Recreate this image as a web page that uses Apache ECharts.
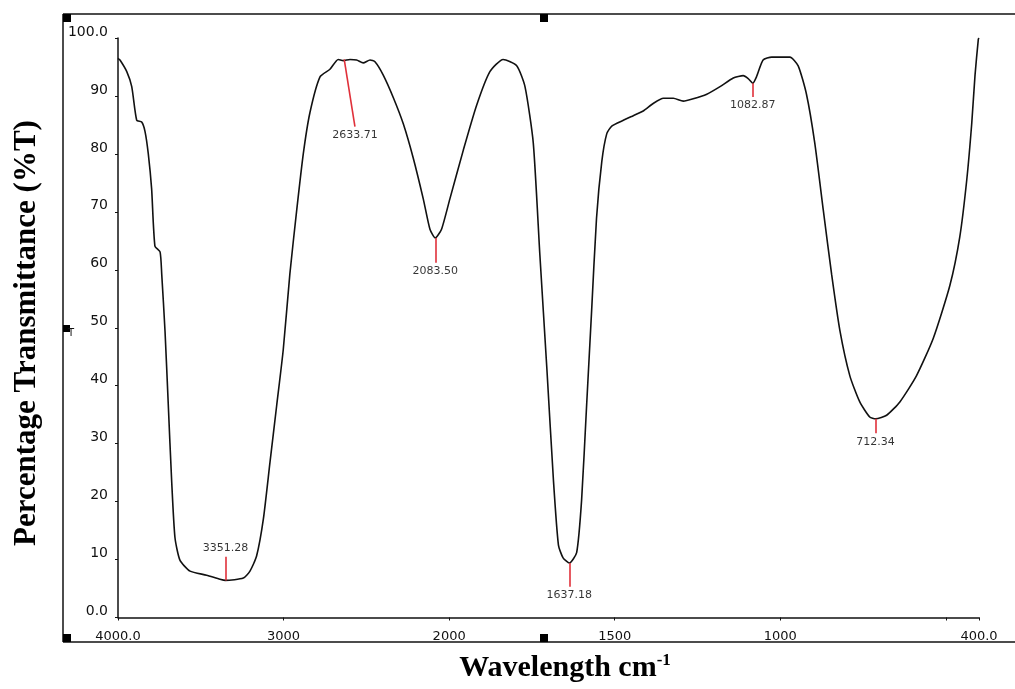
<!DOCTYPE html>
<html>
<head>
<meta charset="utf-8">
<script src="https://cdn.jsdelivr.net/npm/echarts@6/dist/echarts.min.js"></script>
<style>html,body{margin:0;padding:0;background:#fff;}#c{width:1015px;height:689px;}</style>
</head>
<body>
<div id="c"></div>
<script>
// Spectrum (wavenumber cm-1, %T)
const wavenumbers = [4000,3988,3947,3917,3887,3857,3837,3817,3797,3777,3746,3736,3716,3696,3676,3656,3626,3565,3465,3384,3351,3243,3203,3163,3122,3082,3042,3002,2962,2921,2881,2841,2780,2720,2670,2640,2599,2559,2519,2478,2448,2398,2337,2277,2217,2156,2116,2083.5,2046,1998,1957,1917,1877,1837,1796,1771,1746,1726,1705,1685,1670,1656,1637,1615,1600,1585,1570,1555,1539,1524,1509,1474,1444,1414,1384,1353,1323,1293,1263,1222,1182,1142,1112,1097,1083,1072,1052,1026,971,946,921,896,870,845,820,790,760,730,712,679,639,589,538,488,458,437,422,412,402,400];
const transmittance = [96.5,96.2,94.2,91.6,85.8,85.5,83.9,80.0,74.0,64.1,63.1,59.3,49.4,36.5,23.6,13.8,9.9,8.0,7.3,6.6,6.4,6.8,8.0,10.6,17.0,26.8,36.5,46.2,59.3,70.2,80.0,87.1,93.3,94.6,96.3,96.1,96.3,96.2,95.7,96.2,95.9,93.6,89.7,85.2,79.3,72.2,67.0,65.5,67.0,72.2,80.7,88.4,94.2,96.3,95.2,91.6,81.9,62.5,43.0,23.6,12.5,10.3,9.4,11.2,20.3,36.5,52.7,68.9,78.7,83.5,84.8,85.8,86.6,87.4,88.7,89.6,89.6,89.1,89.5,90.3,91.6,93.1,93.5,93.0,92.2,93.3,96.2,96.7,96.7,95.2,90.3,81.9,70.2,59.2,49.5,41.7,37.2,34.6,34.3,34.9,37.2,41.7,48.2,57.3,65.7,75.5,85.2,93.6,99.8,100.0];

// Peak annotations
const peakLabels = ['3351.28','2633.71','2083.50','1637.18','1082.87','712.34'];
const peakWave = [3351.28,2633.71,2083.50,1637.18,1082.87,712.34];
const peakT = [6.4,96.3,65.5,9.4,92.2,34.3];
const peakEndWave = [3351.28,2569,2083.50,1637.18,1082.87,712.34];
const peakEndT = [10.5,84.7,61.2,5.3,89.8,31.8];
const peakLabelSide = ['top','bottom','bottom','bottom','bottom','bottom'];

// Axis ticks (wavenumber)
const xTickWaves = [4000,3000,2000,1500,1000,500,400];
const yTicks = [0,10,20,30,40,50,60,70,80,90,100];

// IR spectra use a compressed scale above 2000 cm-1 (half scale)
function toAxis(w){ return w >= 2000 ? (4000 - w) / 2 : 1000 + (2000 - w); }
function fromAxis(t){ return t <= 1000 ? 4000 - 2 * t : 3000 - t; }

const spectrum = wavenumbers.map((w,i)=>[toAxis(w), transmittance[i]]);

const chart = echarts.init(document.getElementById('c'), null, {renderer:'canvas'});
const labelFont = {fontFamily:'DejaVu Sans', color:'#111'};

chart.setOption({
  animation:false,
  backgroundColor:'#ffffff',
  grid:{left:118, right:36, top:38, bottom:71.5, containLabel:false},
  xAxis:{
    type:'value', min:0, max:2600, interval:500,
    axisLine:{show:true, lineStyle:{color:'#111', width:1.5}},
    axisTick:{show:true, length:3, lineStyle:{color:'#111'}},
    splitLine:{show:false},
    axisLabel:{
      show:true, margin:13, fontSize:13, ...labelFont, showMinLabel:true, showMaxLabel:true,
      formatter:function(t){
        const w = Math.round(fromAxis(t));
        if (w === 4000) return '4000.0';
        if (w === 400) return '400.0';
        if (xTickWaves.indexOf(w) >= 0 && w !== 500) return String(w);
        return '';
      }
    }
  },
  yAxis:{
    type:'value', min:0, max:100, interval:10,
    axisLine:{show:true, lineStyle:{color:'#111', width:1.5}},
    axisTick:{show:true, length:3, lineStyle:{color:'#111'}},
    splitLine:{show:false},
    axisLabel:{
      show:true, margin:10, fontSize:14, ...labelFont, verticalAlign:'bottom', lineHeight:12,
      formatter:function(v){ if (v===0) return '0.0'; if (v===100) return '100.0'; return String(v); }
    }
  },
  series:[
    {
      type:'line', data:spectrum, showSymbol:false, smooth:0.2,
      lineStyle:{color:'#111', width:1.6},
      silent:true,
      markLine:{
        silent:true, symbol:['none','none'],
        lineStyle:{color:'#e0303a', width:1.6, type:'solid'},
        label:{show:false},
        data: peakWave.map((w,i)=>[{coord:[toAxis(w), peakT[i]]},{coord:[toAxis(peakEndWave[i]), peakEndT[i]]}])
      }
    },
    {
      type:'scatter', symbolSize:0, silent:true,
      data: peakLabels.map((s,i)=>({
        value:[toAxis(peakEndWave[i]), peakEndT[i], s],
        label:{show:true, position:peakLabelSide[i], distance:3, formatter:s, fontSize:11, fontFamily:'DejaVu Sans', color:'#000'}
      }))
    }
  ],
  graphic:[
    {type:'line', shape:{x1:63,y1:14,x2:1015,y2:14}, style:{stroke:'#111', lineWidth:1.5}},
    {type:'line', shape:{x1:63,y1:14,x2:63,y2:642}, style:{stroke:'#111', lineWidth:1.5}},
    {type:'line', shape:{x1:63,y1:642,x2:1015,y2:642}, style:{stroke:'#111', lineWidth:1.5}},
    {type:'rect', shape:{x:63,y:14,width:8,height:8}, style:{fill:'#000'}},
    {type:'rect', shape:{x:540,y:14,width:8,height:8}, style:{fill:'#000'}},
    {type:'rect', shape:{x:63,y:634,width:8,height:8}, style:{fill:'#000'}},
    {type:'rect', shape:{x:540,y:634,width:8,height:8}, style:{fill:'#000'}},
    {type:'rect', shape:{x:63,y:325,width:7,height:7}, style:{fill:'#000'}},
    {type:'text', x:68, y:328, style:{text:'T', fontSize:10, fontFamily:'DejaVu Sans', fill:'#111'}},
    {type:'text', x:27, y:333, rotation:Math.PI/2,
      style:{text:'Percentage Transmittance (%T)', fontSize:31, fontWeight:'bold', fontFamily:'Liberation Serif', fill:'#000', align:'center', verticalAlign:'middle'}},
    {type:'text', x:565, y:668,
      style:{text:'{a|Wavelength cm}{b|-1}', align:'center', verticalAlign:'middle',
        rich:{a:{fontSize:30, fontWeight:'bold', fontFamily:'Liberation Serif', fill:'#000', color:'#000'},
              b:{fontSize:17, fontWeight:'bold', fontFamily:'Liberation Serif', fill:'#000', color:'#000', verticalAlign:'top', padding:[0,0,14,0]}}}}
  ]
});
</script>
</body>
</html>
